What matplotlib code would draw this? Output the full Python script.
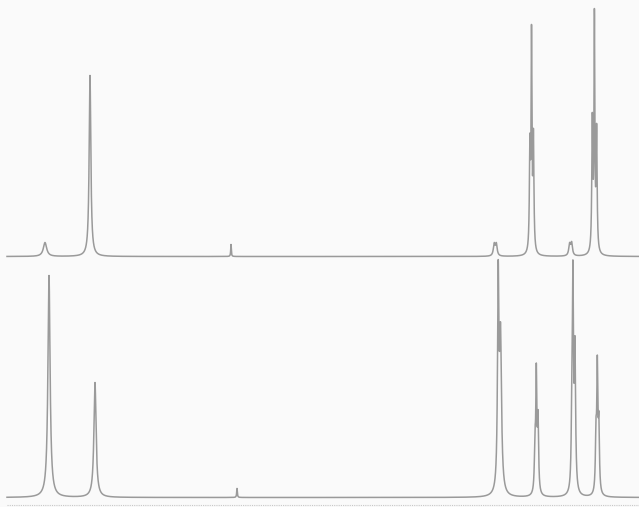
import numpy as np
import matplotlib
matplotlib.use("Agg")
import matplotlib.pyplot as plt

# Peak lists (position, intensity, half-width) for each spectrum trace
top_pos    = [45.0, 90.0, 231.0, 494.2, 496.3, 529.9, 531.5, 533.4, 569.6, 571.6, 592.3, 594.4, 596.6]
top_height = [13.9, 181.0, 12.0, 11.7, 11.7, 101.1, 209.4, 111.5, 11.2, 12.4, 129.3, 229.9, 119.2]
top_width  = [2.0, 1.0, 0.35, 1.0, 1.0, 0.6, 0.5, 0.6, 1.0, 1.0, 0.6, 0.5, 0.6]

bot_pos    = [49.0, 95.0, 237.0, 498.2, 500.5, 535.0, 536.3, 538.0, 571.9, 572.9, 574.9, 596.0, 597.3, 598.8]
bot_height = [221.9, 114.8, 9.0, 204.7, 152.8, 45.9, 113.3, 72.2, 74.1, 193.3, 141.4, 54.9, 117.9, 66.1]
bot_width  = [1.3, 1.3, 0.4, 0.8, 1.2, 0.7, 0.6, 0.7, 0.7, 0.6, 0.8, 0.7, 0.6, 0.7]

top_base = 256.5
bot_base = 497.5

def spectrum(x, pos, height, width):
    y = np.zeros_like(x)
    for p, h, w in zip(pos, height, width):
        y += h * w**2 / ((x - p)**2 + w**2)
    return y

W, H = 639, 507
fig = plt.figure(figsize=(W/100, H/100), dpi=100)
fig.patch.set_facecolor("#fafafa")
ax = fig.add_axes([0, 0, 1, 1])
ax.set_facecolor("#fafafa")
x = np.linspace(7, 639, 40000)
col = "#9a9a9a"
ax.plot(x, top_base - spectrum(x, top_pos, top_height, top_width), color=col, lw=1.1)
ax.plot(x, bot_base - spectrum(x, bot_pos, bot_height, bot_width), color=col, lw=1.1)
ax.axhline(504.5, xmin=7/639, color="#c8c8c8", lw=0.8, ls=(0, (1, 1)))
ax.set_xlim(0, W)
ax.set_ylim(H, 0)
ax.axis("off")
fig.savefig("out.png", dpi=100, facecolor=fig.get_facecolor())
